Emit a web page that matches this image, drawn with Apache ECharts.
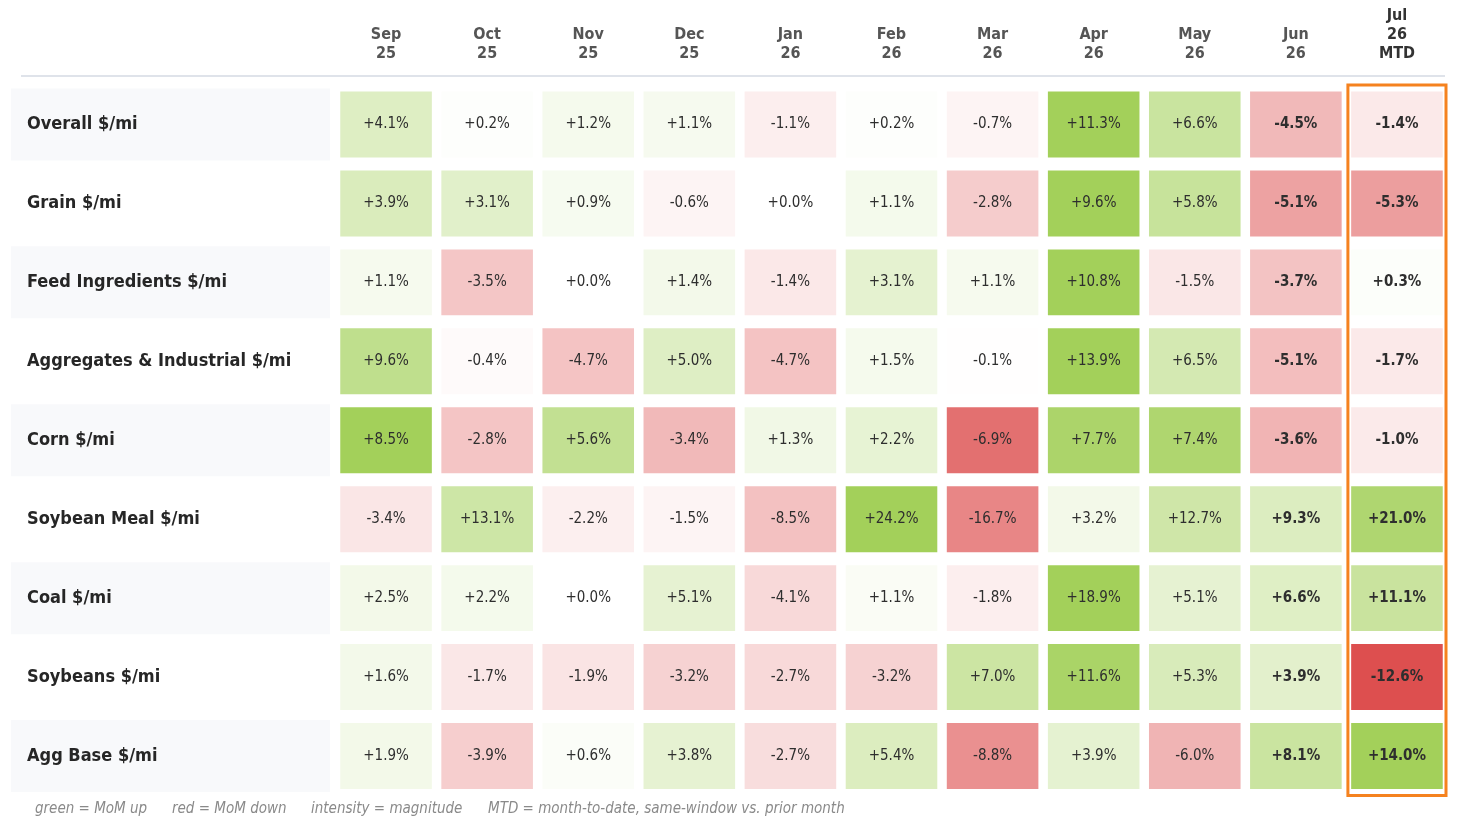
<!DOCTYPE html>
<html>
<head>
<meta charset="utf-8">
<script src="https://cdn.jsdelivr.net/npm/echarts@6/dist/echarts.min.js"></script>
<style>
  html, body { margin: 0; padding: 0; background: #fff; }
  #main { width: 1465px; height: 824px; }
</style>
</head>
<body>
<div id="main"></div>
<script>
// months (header) and freight lanes (rows)
var months = ["Sep\n25", "Oct\n25", "Nov\n25", "Dec\n25", "Jan\n26", "Feb\n26", "Mar\n26", "Apr\n26", "May\n26", "Jun\n26", "Jul\n26\nMTD"];
var rows = ["Overall $/mi", "Grain $/mi", "Feed Ingredients $/mi", "Aggregates & Industrial $/mi", "Corn $/mi", "Soybean Meal $/mi", "Coal $/mi", "Soybeans $/mi", "Agg Base $/mi"];

// MoM % change, one array per row
var overall    = [4.1, 0.2, 1.2, 1.1, -1.1, 0.2, -0.7, 11.3, 6.6, -4.5, -1.4];
var grain      = [3.9, 3.1, 0.9, -0.6, 0.0, 1.1, -2.8, 9.6, 5.8, -5.1, -5.3];
var feed       = [1.1, -3.5, 0.0, 1.4, -1.4, 3.1, 1.1, 10.8, -1.5, -3.7, 0.3];
var aggInd     = [9.6, -0.4, -4.7, 5.0, -4.7, 1.5, -0.1, 13.9, 6.5, -5.1, -1.7];
var corn       = [8.5, -2.8, 5.6, -3.4, 1.3, 2.2, -6.9, 7.7, 7.4, -3.6, -1.0];
var soyMeal    = [-3.4, 13.1, -2.2, -1.5, -8.5, 24.2, -16.7, 3.2, 12.7, 9.3, 21.0];
var coal       = [2.5, 2.2, 0.0, 5.1, -4.1, 1.1, -1.8, 18.9, 5.1, 6.6, 11.1];
var soybeans   = [1.6, -1.7, -1.9, -3.2, -2.7, -3.2, 7.0, 11.6, 5.3, 3.9, -12.6];
var aggBase    = [1.9, -3.9, 0.6, 3.8, -2.7, 5.4, -8.8, 3.9, -6.0, 8.1, 14.0];

var footNotes = ["green = MoM up", "red = MoM down", "intensity = magnitude", "MTD = month-to-date, same-window vs. prior month"];

(function() {
  var FONT = '"DejaVu Sans Condensed", "DejaVu Sans", sans-serif';
  var table = [overall, grain, feed, aggInd, corn, soyMeal, coal, soybeans, aggBase];

  // colour intensity is scaled per row by its largest move
  var cells = [];
  table.forEach(function(vals, r) {
    var maxAbs = Math.max.apply(null, vals.map(Math.abs));
    vals.forEach(function(v, c) {
      cells.push([c, r, v / maxAbs, v]);
    });
  });

  function fmt(v) {
    return (v >= 0 ? "+" : "") + v.toFixed(1) + "%";
  }

  var myChart = echarts.init(document.getElementById("main"));

  var option = {
    backgroundColor: "#fff",
    animation: false,
    grid: { left: 335.5, right: 17.5, top: 85, bottom: 28.5 },
    visualMap: {
      show: false,
      type: "continuous",
      dimension: 2,
      min: -1,
      max: 1,
      seriesIndex: 0,
      inRange: { color: ["#dd4f4f", "#ffffff", "#a3d05a"] }
    },
    xAxis: {
      type: "category",
      position: "top",
      data: months,
      axisLine: { show: false },
      axisTick: { show: false },
      splitLine: { show: false },
      axisLabel: {
        margin: 22,
        interval: 0,
        formatter: function(val, idx) {
          var tag = idx === months.length - 1 ? "cur" : "m";
          return val.split("\n").map(function(s) { return "{" + tag + "|" + s + "}"; }).join("\n");
        },
        rich: {
          m: { fontFamily: FONT, fontWeight: "bold", fontSize: 16, color: "#555", lineHeight: 19, align: "center" },
          cur: { fontFamily: FONT, fontWeight: "bold", fontSize: 16, color: "#333", lineHeight: 19, align: "center" }
        }
      }
    },
    yAxis: {
      type: "category",
      inverse: true,
      data: rows,
      axisLine: { show: false },
      axisTick: { show: false },
      splitLine: { show: false },
      axisLabel: {
        margin: 5.5,
        interval: 0,
        formatter: function(val, idx) {
          return (idx % 2 === 0 ? "{band|" : "{plain|") + val + "}";
        },
        rich: {
          band: { fontFamily: FONT, fontWeight: "bold", fontSize: 18, color: "#262626", width: 303, height: 72, padding: [0, 0, 0, 16], backgroundColor: "#f8f9fb", align: "left" },
          plain: { fontFamily: FONT, fontWeight: "bold", fontSize: 18, color: "#262626", width: 303, height: 72, padding: [0, 0, 0, 16], align: "left" }
        }
      }
    },
    series: [
      {
        type: "custom",
        data: cells,
        encode: { x: 0, y: 1 },
        renderItem: function(params, api) {
          var c = api.coord([api.value(0), api.value(1)]);
          var s = api.size([1, 1]);
          var w = s[0] - 9.5, h = s[1] - 13;
          var bold = api.value(0) >= months.length - 2;
          return {
            type: "group",
            children: [
              {
                type: "rect",
                shape: { x: c[0] - w / 2, y: c[1] - h / 2, width: w, height: h },
                style: { fill: api.visual("color") }
              },
              {
                type: "text",
                style: {
                  text: fmt(api.value(3)),
                  x: c[0],
                  y: c[1],
                  align: "center",
                  verticalAlign: "middle",
                  font: (bold ? "bold " : "") + "15px " + FONT,
                  fill: "#2e2e2e"
                }
              }
            ]
          };
        }
      }
    ]
  };

  myChart.setOption(option);

  // header rule, highlight box round the MTD column, and footnotes
  var last = months.length - 1;
  var cx = myChart.convertToPixel({ xAxisIndex: 0 }, last);
  var pitchX = cx - myChart.convertToPixel({ xAxisIndex: 0 }, last - 1);
  var y0 = myChart.convertToPixel({ yAxisIndex: 0 }, 0);
  var y1 = myChart.convertToPixel({ yAxisIndex: 0 }, rows.length - 1);
  var pitchY = (y1 - y0) / (rows.length - 1);

  var footX = [35, 172, 311, 488];
  var graphics = [
    {
      type: "line",
      shape: { x1: 21, y1: 76, x2: 1445, y2: 76 },
      style: { stroke: "#dfe3ea", lineWidth: 2 }
    },
    {
      type: "rect",
      z: 100,
      shape: {
        x: cx - pitchX / 2 + 1.5,
        y: y0 - pitchY / 2,
        width: pitchX - 3,
        height: (y1 - y0) + pitchY
      },
      style: { fill: "none", stroke: "#f5821f", lineWidth: 3 }
    }
  ];
  footNotes.forEach(function(t, i) {
    graphics.push({
      type: "text",
      x: footX[i],
      y: 809,
      style: { text: t, font: "italic 15px " + FONT, fill: "#8a8a8a", verticalAlign: "middle" }
    });
  });
  myChart.setOption({ graphic: graphics });

  window.addEventListener("resize", function() {
    myChart.resize();
  });
})();
</script>
</body>
</html>
